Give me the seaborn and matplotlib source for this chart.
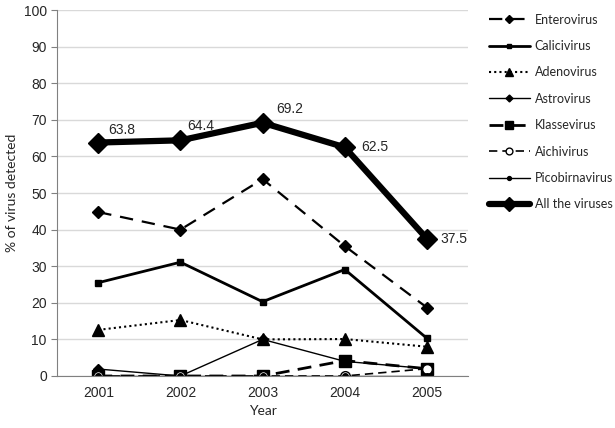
import matplotlib
matplotlib.use('Agg')
import matplotlib.pyplot as plt
import seaborn as sns
import pandas as pd

sns.set_style('white')
plt.rcParams['font.family'] = ['Liberation Sans', 'DejaVu Sans']

years = ['2001', '2002', '2003', '2004', '2005']
enterovirus = [44.8, 40.0, 53.8, 35.5, 18.7]
calicivirus = [25.5, 31.1, 20.3, 29.1, 10.3]
adenovirus = [12.6, 15.3, 10.0, 10.1, 8.0]
astrovirus = [1.9, 0.0, 10.0, 4.0, 2.0]
klassevirus = [0.0, 0.0, 0.0, 4.2, 2.0]
aichivirus = [0.0, 0.0, 0.0, 0.0, 2.0]
picobirnavirus = [0.0, 0.0, 0.0, 0.0, 0.0]
all_viruses = [63.8, 64.4, 69.2, 62.5, 37.5]

series = {
    'Enterovirus': enterovirus,
    'Calicivirus': calicivirus,
    'Adenovirus': adenovirus,
    'Astrovirus': astrovirus,
    'Klassevirus': klassevirus,
    'Aichivirus': aichivirus,
    'Picobirnavirus': picobirnavirus,
    'All the viruses': all_viruses,
}

# line style, width, marker, marker size, marker face
styles = {
    'Enterovirus': ((0, (6, 4)), 1.6, 'D', 6, 'black'),
    'Calicivirus': ('-', 2.0, 's', 5, 'black'),
    'Adenovirus': ((0, (1, 1.5)), 1.5, '^', 8, 'black'),
    'Astrovirus': ('-', 1.0, 'D', 5, 'black'),
    'Klassevirus': ((0, (5, 3)), 2.0, 's', 8, 'black'),
    'Aichivirus': ((0, (5, 3)), 1.2, 'o', 7, 'white'),
    'Picobirnavirus': ('-', 1.0, 'o', 4, 'black'),
    'All the viruses': ('-', 4.5, 'D', 10, 'black'),
}

fig = plt.figure(figsize=(6.15, 4.28), dpi=100)
ax = fig.add_axes([0.093, 0.1215, 0.668, 0.855])

for name, vals in series.items():
    ls, lw, mk, ms, mf = styles[name]
    df = pd.DataFrame({'Year': range(len(years)), 'value': vals})
    sns.lineplot(data=df, x='Year', y='value', ax=ax, color='black',
                 linestyle=ls, linewidth=lw, marker=mk, markersize=ms,
                 markerfacecolor=mf, markeredgecolor='black', markeredgewidth=1,
                 label=name)

offsets = [(7, 9), (5, 10), (10, 10), (12, 0), (10, 0)]
for i, v in enumerate(all_viruses):
    ax.annotate(f'{v}', (i, v), xytext=offsets[i], textcoords='offset points',
                fontsize=10, ha='left', va='center')

ax.set_xlim(-0.5, 4.5)
ax.set_ylim(0, 100)
ax.set_xticks(range(len(years)))
ax.set_xticklabels(years)
ax.set_yticks(range(0, 101, 10))
ax.yaxis.grid(True, color='#d9d9d9', linewidth=1)
ax.set_axisbelow(True)
for s in ['top', 'right']:
    ax.spines[s].set_visible(False)
ax.spines['left'].set_color('#808080')
ax.spines['bottom'].set_color('#808080')
ax.tick_params(axis='y', left=True, length=4, color='#808080', labelsize=10)
ax.tick_params(axis='x', bottom=False, labelsize=10)
ax.set_xlabel('Year', fontsize=10, family=['Lato', 'DejaVu Sans'])
ax.set_ylabel('% of virus detected', fontsize=10, family=['Lato', 'DejaVu Sans'])

leg = ax.legend(loc='upper left', bbox_to_anchor=(1.05, 0.99), frameon=False,
                borderaxespad=0, borderpad=0, labelspacing=1.15,
                handlelength=3.3, handletextpad=0.4, markerscale=0.7,
                prop={'family': ['Lato', 'DejaVu Sans'], 'size': 9})

fig.savefig('out.png', dpi=100)
